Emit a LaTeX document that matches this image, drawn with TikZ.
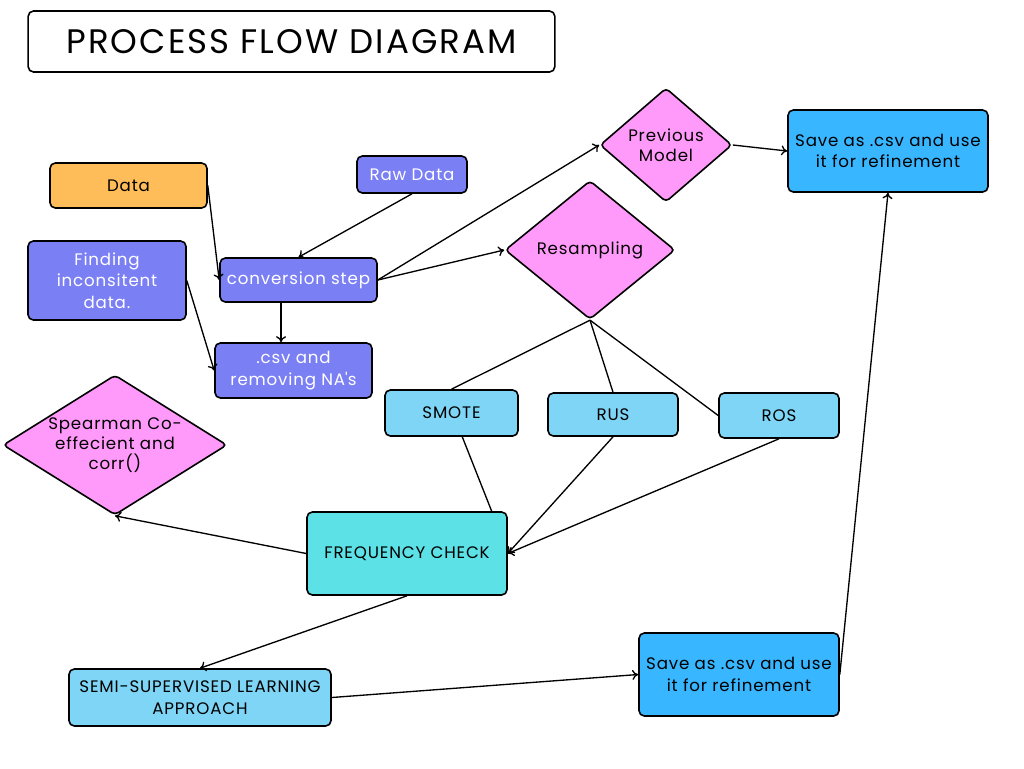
\documentclass[tikz,border=0pt]{standalone}
\usepackage{fontspec}
\setmainfont{Poppins}[LetterSpace=5]
\usetikzlibrary{arrows.meta,shapes.geometric,calc}
\definecolor{orangeD}{HTML}{FFBD59}
\definecolor{peri}{HTML}{7B7FF4}
\definecolor{pinkD}{HTML}{FF9AFA}
\definecolor{blueS}{HTML}{38B6FF}
\definecolor{lblue}{HTML}{7ED5F5}
\definecolor{turq}{HTML}{5CE1E6}
\tikzset{
  box/.style={rectangle, rounded corners=4pt, draw=black, line width=1.2pt, align=center, inner sep=1pt, font=\fontsize{12.5}{16}\selectfont},
  dia/.style={diamond, rounded corners=3pt, draw=black, line width=1.2pt, fill=pinkD, inner sep=0pt},
  diatext/.style={align=center, inner sep=0pt, font=\fontsize{12.5}{15}\selectfont},
  arr/.style={line width=1pt, -{To[length=4.5pt,width=7.5pt]}},
  ln/.style={line width=1pt},
}
\begin{document}
\begin{tikzpicture}[x=0.75pt,y=-0.75pt]
\useasboundingbox[fill=white] (0,0) rectangle (1024,768);
% title
\node[box, minimum width=395pt, minimum height=45.75pt, font=\fontsize{25.5}{30}\selectfont\addfontfeatures{LetterSpace=6}] (title) at (291.5,41.5) {PROCESS FLOW DIAGRAM};
% nodes
\node[box, fill=orangeD, minimum width=117.75pt, minimum height=33.75pt] (data) at (128.5,185.5) {Data};
\node[box, fill=peri, text=white, minimum width=82.5pt, minimum height=27.75pt] (raw) at (412,174.5) {Raw Data};
\node[box, fill=peri, text=white, minimum width=118.5pt, minimum height=59.25pt] (find) at (107,280.5) {Finding\\inconsitent\\data.};
\node[box, fill=peri, text=white, minimum width=117.75pt, minimum height=33pt] (conv) at (298.5,280) {conversion step};
\node[box, fill=peri, text=white, minimum width=117.75pt, minimum height=41.25pt] (csv) at (293.5,370.5) {.csv and\\removing NA\textquotesingle s};
\node[dia, minimum width=99pt, minimum height=85.5pt, label={[diatext]center:{Previous\\Model}}] (prev) at (666,145) {};
\node[dia, minimum width=127.5pt, minimum height=104pt, label={[diatext]center:{Resampling}}] (res) at (590,250) {};
\node[box, fill=blueS, minimum width=150pt, minimum height=61.5pt] (save1) at (888,151) {Save as .csv and use\\it for refinement};
\node[box, fill=lblue, minimum width=99.75pt, minimum height=34.5pt] (smote) at (451.5,413) {SMOTE};
\node[box, fill=lblue, minimum width=97.5pt, minimum height=32.25pt] (rus) at (613,414.5) {RUS};
\node[box, fill=lblue, minimum width=90pt, minimum height=33.75pt] (ros) at (779,415.5) {ROS};
\node[dia, minimum width=168pt, minimum height=105pt, label={[diatext]center:{Spearman Co-\\effecient and\\corr()}}] (spear) at (115,445) {};
\node[box, fill=turq, minimum width=150pt, minimum height=62.25pt] (freq) at (407,553.5) {FREQUENCY CHECK};
\node[box, fill=lblue, minimum width=196.5pt, minimum height=42.75pt] (semi) at (200,697.5) {SEMI-SUPERVISED LEARNING\\APPROACH};
\node[box, fill=blueS, minimum width=150pt, minimum height=62.25pt] (save2) at (739,674.5) {Save as .csv and use\\it for refinement};
% connectors
\draw[arr] (data.east) -- (conv.west);
\draw[arr] (raw.south) -- (conv.north);
\draw[arr] (find.east) -- (csv.west);
\coordinate (c1) at ($(conv.south west)!0.39!(conv.south east)$);
\draw[arr] (c1) -- (c1 |- csv.north);
\draw[arr] (conv.east) -- (prev.west);
\draw[arr] (conv.east) -- (res.west);
\draw[arr] (prev.east) -- (save1.west);
\draw[ln] (res.south) -- (smote.north);
\draw[ln] (res.south) -- (rus.north);
\draw[ln] (res.south) -- (ros.west);
\coordinate (s1) at ($(smote.south west)!0.58!(smote.south east)$);
\coordinate (f1) at ($(freq.north west)!0.92!(freq.north east)$);
\draw[ln] (s1) -- (f1);
\draw[arr] (rus.south) -- (freq.east);
\draw[arr] (ros.south) -- (freq.east);
\draw[arr] (freq.west) -- (spear.south);
\draw[arr] (freq.south) -- (semi.north);
\draw[arr] (semi.east) -- (save2.west);
\draw[arr] (save2.east) -- (save1.south);
\end{tikzpicture}
\end{document}
